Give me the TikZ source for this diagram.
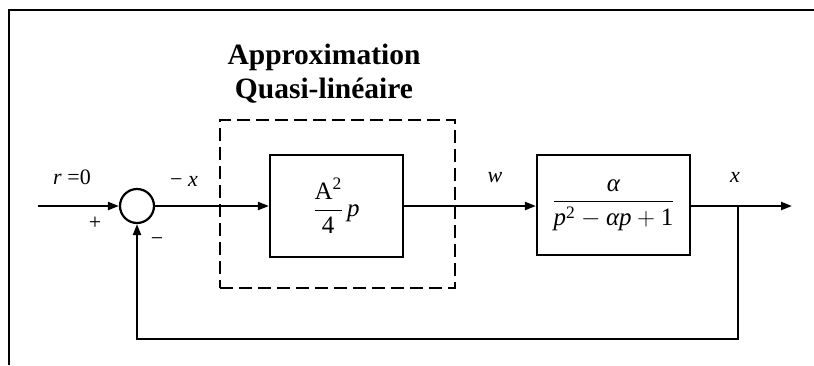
\documentclass[tikz,border=0pt]{standalone}
\usepackage{fix-cm}
\usepackage{amsmath}
\usepackage{fontspec}
\setmainfont{Liberation Serif}
\usetikzlibrary{arrows.meta}
\tikzset{
  sig/.style={line width=2.2pt, -{Triangle[length=11pt,width=8pt]}},
  blk/.style={draw, line width=2.2pt, inner sep=0pt},
  lbl/.style={font=\fontsize{22}{26}\selectfont, inner sep=0pt},
  boxtext/.style={font=\fontsize{25}{30}\selectfont}
}
\begin{document}
\begin{tikzpicture}[x=1pt,y=-1pt]
\useasboundingbox (0,0) rectangle (814,365);
% frame
\draw[line width=2.4pt] (9,365) -- (9,10) -- (814,10);
% title
\node[align=center, font=\bfseries\fontsize{29.5}{34}\selectfont] (title) at (324,74) {Approximation\\Quasi-linéaire};
% outer dashed box
\node[draw, line width=2.2pt, dash pattern=on 13pt off 6pt, minimum width=235pt, minimum height=168pt] (approx) at (337.5,204) {};
% summing junction
\node[blk, circle, minimum size=34pt] (sum) at (137,206) {};
% blocks
\node[blk, minimum width=133pt, minimum height=102pt, boxtext] (g1) at (336.5,206)
  {$\dfrac{\text{A}^{\text{2}}}{\text{4}}\,\textit{p}$};
\node[blk, minimum width=153pt, minimum height=100pt, boxtext] (g2) at (613.5,205)
  {$\dfrac{\textit{α}}{\textit{p}^{\text{2}}-\textit{α}\textit{p}+\text{1}}$};
% coordinates
\coordinate (in) at (38,206);
\coordinate (out) at (792,206);
\coordinate (br) at (738,206);
\coordinate (fb) at (738,339);
% connectors
\draw[sig] (in) -- (sum.west);
\draw[sig] (sum.east) -- (g1.west);
\draw[sig] (g1.east) -- (g1.east -| g2.west);
\draw[sig] (g2.east |- out) -- (out);
\draw[sig] (br) -- (fb) -| (sum.south);
% labels
\node[lbl] (lr) at (72,177) {\textit{r} =0};
\node[lbl] (lplus) at (95,223) {+};
\node[lbl] (lminus) at (157,242) {−};
\node[lbl] (lx1) at (184,181) {− \textit{x}};
\node[lbl] (lw) at (495,178) {\textit{w}};
\node[lbl] (lx2) at (735,177) {\textit{x}};
\end{tikzpicture}
\end{document}
